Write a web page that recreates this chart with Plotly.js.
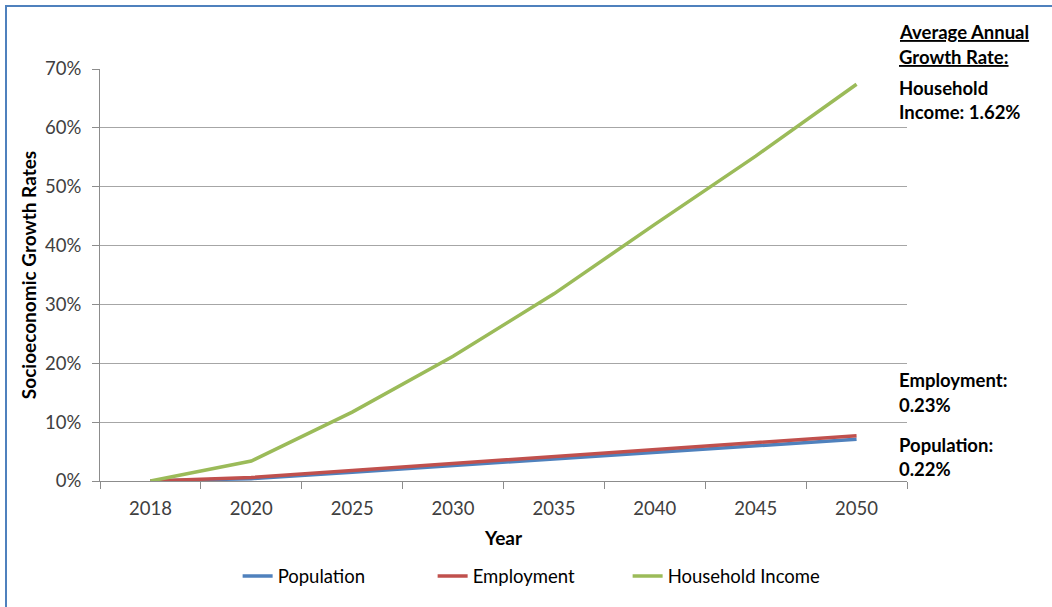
<!DOCTYPE html>
<html>
<head>
<meta charset="utf-8">
<script src="https://cdn.plot.ly/plotly-3.0.1.min.js"></script>
<style>
  html, body { margin: 0; padding: 0; width: 1052px; height: 607px; overflow: hidden; background: #fff; }
  #frame { position: absolute; left: 5px; top: 5px; width: 1200px; height: 800px; border-left: 2px solid #4f81bd; border-top: 2px solid #4f81bd; }
  #chart { position: absolute; left: 0; top: 0; width: 1052px; height: 607px; }
</style>
</head>
<body>
<div id="frame"></div>
<div id="chart"></div>
<script>
const years = ['2018', '2020', '2025', '2030', '2035', '2040', '2045', '2050'];
const population = [0, 0.4, 1.5, 2.6, 3.8, 4.9, 6.0, 7.1];
const employment = [0, 0.6, 1.8, 3.0, 4.2, 5.4, 6.6, 7.7];
const householdIncome = [0, 3.4, 11.7, 21.2, 31.8, 43.6, 55.2, 67.4];
const seriesNames = ['Population', 'Employment', 'Household Income'];
const noteLines = [
  {text: '<u>Average Annual</u>', py: 32},
  {text: '<u>Growth Rate:</u>', py: 57},
  {text: 'Household', py: 88},
  {text: 'Income: 1.62%', py: 112},
  {text: 'Employment:', py: 380},
  {text: '0.23%', py: 405},
  {text: 'Population:', py: 445},
  {text: '0.22%', py: 469}
];

const FONT = 'Lato, Carlito, "Open Sans", sans-serif';
const colors = ['#4f81bd', '#c0504d', '#9bbb59'];
const series = [population, employment, householdIncome];

const traces = series.map((vals, i) => ({
  type: 'scatter',
  mode: 'lines',
  x: years,
  y: vals,
  name: seriesNames[i],
  line: {color: colors[i], width: 3.5},
  hoverinfo: 'x+y+name'
}));

const L = 100, R = 145, T = 69, B = 126;
const plotH = 607 - T - B;
const annotations = noteLines.map(n => ({
  xref: 'paper', yref: 'paper',
  x: (897 - L) / (1052 - L - R), xanchor: 'left',
  y: (607 - B - n.py) / plotH, yanchor: 'middle',
  text: '<b>' + n.text + '</b>',
  showarrow: false,
  align: 'left',
  font: {family: FONT, size: 18.5, color: '#000'}
}));

const layout = {
  width: 1052, height: 607,
  margin: {l: L, r: R, t: T, b: B},
  paper_bgcolor: 'rgba(0,0,0,0)',
  plot_bgcolor: 'rgba(0,0,0,0)',
  font: {family: FONT, size: 18, color: '#404040'},
  showlegend: true,
  legend: {
    orientation: 'h',
    x: 0.533, xanchor: 'center',
    y: -0.232, yanchor: 'middle',
    font: {family: FONT, size: 18.5, color: '#000'},
    entrywidth: 150, entrywidthmode: 'pixels',
    traceorder: 'normal'
  },
  xaxis: {
    type: 'category',
    range: [-0.5, 7.5],
    tickson: 'boundaries',
    ticks: 'outside', ticklen: 7, tickcolor: '#8c8c8c',
    ticklabelstandoff: 11,
    showline: true, linecolor: '#8c8c8c', linewidth: 1,
    showgrid: false,
    tickfont: {family: FONT, size: 18.5, color: '#404040'},
    title: {text: '<b>Year</b>', font: {family: FONT, size: 19, color: '#000'}, standoff: 13},
    fixedrange: true
  },
  yaxis: {
    range: [0, 70],
    dtick: 10,
    ticksuffix: '%',
    ticks: 'outside', ticklen: 7, tickcolor: '#8c8c8c',
    ticklabelstandoff: 7,
    showline: true, linecolor: '#8c8c8c', linewidth: 1,
    showgrid: true, gridcolor: '#a6a6a6', gridwidth: 1,
    zeroline: false,
    tickfont: {family: FONT, size: 18.5, color: '#404040'},
    title: {text: '<b>Socioeconomic Growth Rates</b>', font: {family: FONT, size: 19, color: '#000'}, standoff: 3},
    fixedrange: true
  },
  annotations: annotations
};

Plotly.newPlot('chart', traces, layout, {displayModeBar: false});
</script>
</body>
</html>
